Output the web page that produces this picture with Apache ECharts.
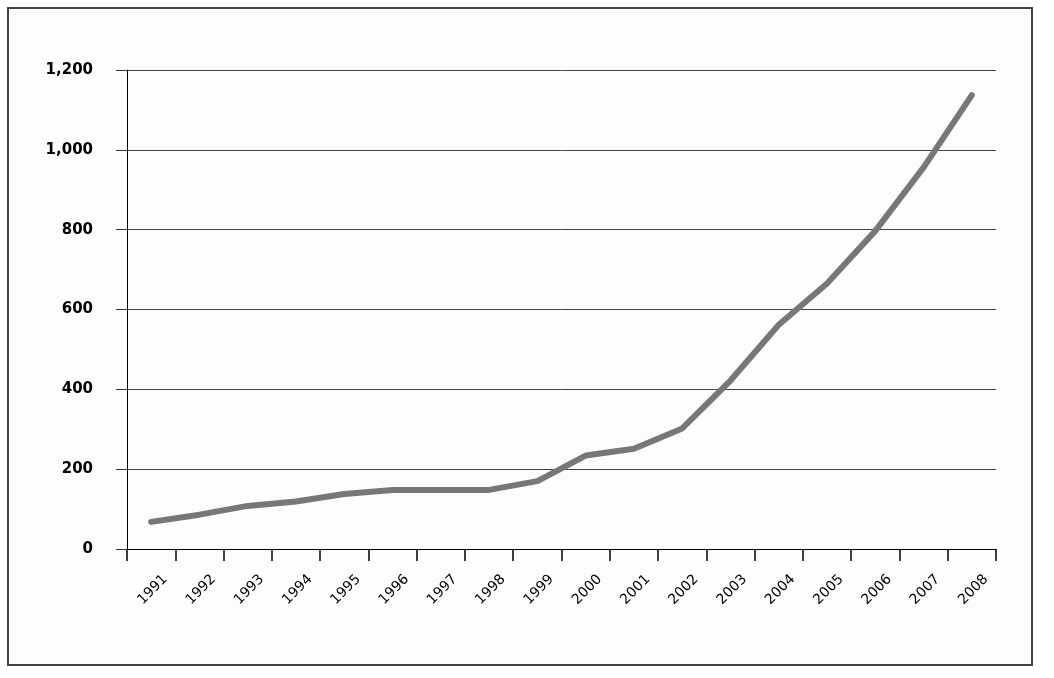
<!DOCTYPE html>
<html lang="en">
<head>
    <meta charset="UTF-8">
    <title>1991-2008</title>
    <style>
        html, body { margin: 0; padding: 0; background: #fff; }
        #main { width: 1054px; height: 678px; }
    </style>
</head>
<body>
<div id="main"></div>
<script src="https://cdn.jsdelivr.net/npm/echarts@6/dist/echarts.min.js"></script>
<script>
    // years on the x axis
    const years = ['1991', '1992', '1993', '1994', '1995', '1996', '1997', '1998', '1999',
        '2000', '2001', '2002', '2003', '2004', '2005', '2006', '2007', '2008'];
    // values
    const values = [68, 86, 108, 119, 138, 148, 148, 148, 170,
        234, 251, 302, 422, 562, 665, 797, 956, 1137];
    const yTicks = [0, 200, 400, 600, 800, 1000, 1200];

    const myChart = echarts.init(document.getElementById('main'));
    myChart.setOption({
        animation: false,
        backgroundColor: '#ffffff',
        textStyle: { fontFamily: 'DejaVu Sans' },
        graphic: [{
            type: 'rect',
            z: -1,
            shape: { x: 8, y: 8, width: 1024, height: 657 },
            style: { fill: '#fdfdfb', stroke: '#444', lineWidth: 2 }
        }],
        grid: { left: 127, right: 58, top: 70, bottom: 129 },
        xAxis: {
            type: 'category',
            data: years,
            boundaryGap: true,
            axisLine: { lineStyle: { color: '#000', width: 1 } },
            axisTick: { show: true, length: 12, lineStyle: { color: '#000', width: 1.5 } },
            axisLabel: {
                rotate: 45,
                interval: 0,
                margin: 14,
                color: '#000',
                fontSize: 14,
                verticalAlign: 'top',
                lineHeight: 20,
                padding: [10, 0, 0, 0]
            }
        },
        yAxis: {
            type: 'value',
            min: yTicks[0],
            max: yTicks[yTicks.length - 1],
            interval: 200,
            axisLine: { show: true, lineStyle: { color: '#000', width: 1 } },
            axisTick: { show: true, length: 11, lineStyle: { color: '#333' } },
            splitLine: { lineStyle: { color: '#444', width: 1 } },
            axisLabel: {
                margin: 34,
                color: '#000',
                fontSize: 15,
                fontWeight: 'bold',
                formatter: (v) => v.toLocaleString('en-US')
            }
        },
        series: [{
            type: 'line',
            data: values,
            showSymbol: false,
            symbol: 'none',
            lineStyle: { color: '#777', width: 6, cap: 'round', join: 'round' }
        }]
    });
</script>
</body>
</html>
